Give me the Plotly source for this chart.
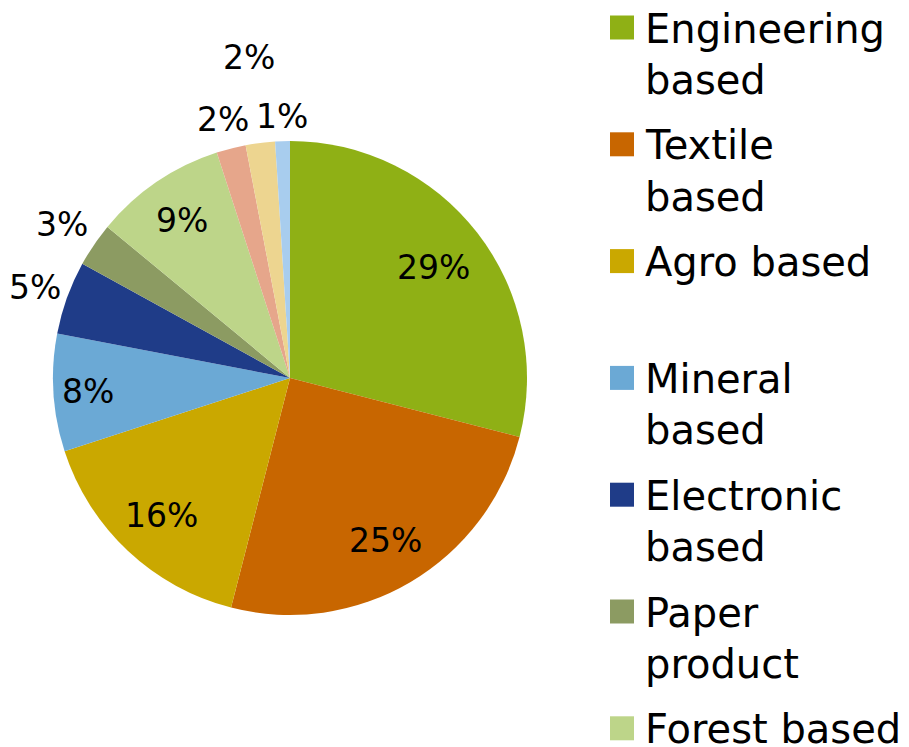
import math
import plotly.graph_objects as go

categories = ["Engineering based", "Textile based", "Agro based", "Mineral based",
              "Electronic based", "Paper product", "Forest based",
              "Chemical based", "Food based", "Others"]
legend_lines = [["Engineering", "based"], ["Textile", "based"], ["Agro based"],
                ["Mineral", "based"], ["Electronic", "based"], ["Paper", "product"],
                ["Forest based"], ["Chemical", "based"], ["Food based"], ["Others"]]
shares = [29, 25, 16, 8, 5, 3, 9, 2, 2, 1]
colors = ["#8FB015", "#C86600", "#CAA800", "#6BA9D5", "#1F3C88",
          "#8C9B62", "#BDD589", "#E6A68B", "#EDD590", "#A8CDEE"]
# radial distance of each percentage label, as a fraction of the pie radius
label_radius = [0.767, 0.79, 0.79, 0.853, 1.143, 1.163, 0.81, 1.131, 1.368, 1.11]

W, H = 909, 747
OFF = 8  # page body margin
FONT = "DejaVu Sans"
CX, CY, R = 290, 378, 237  # pie centre / radius in picture pixels


def px(x):
    return (x - OFF) / W


def py(y):
    return 1 - (y - OFF) / H


fig = go.Figure(go.Pie(
    labels=categories, values=shares, sort=False, direction="clockwise",
    rotation=0, marker=dict(colors=colors, line=dict(width=0)),
    textinfo="none", showlegend=False, hoverinfo="label+percent",
    domain=dict(x=[px(CX - R), px(CX + R)], y=[py(CY + R), py(CY - R)]),
))

shapes, annots = [], []

# percentage labels along each slice's bisector
total = sum(shares)
cum = 0
for v, f in zip(shares, label_radius):
    theta = math.radians(360 * (cum + v / 2) / total)
    cum += v
    lx = CX + f * R * math.sin(theta)
    ly = CY - f * R * math.cos(theta)
    annots.append(dict(text=f"{v}%", xref="paper", yref="paper", x=px(lx), y=py(ly + 1),
                       xanchor="center", yanchor="middle", showarrow=False,
                       font=dict(family=FONT, size=33, color="#000000")))

# manual legend (Excel-style equal spacing)
item_step = 116.8
first_center = 27.5
for i, (lines, col) in enumerate(zip(legend_lines, colors)):
    cy = first_center + i * item_step
    if cy > H:
        break
    shapes.append(dict(type="rect", xref="paper", yref="paper",
                       x0=px(610), x1=px(634), y0=py(cy - 12), y1=py(cy + 12),
                       fillcolor=col, line=dict(width=0)))
    for k, t in enumerate(lines):
        ly = cy + k * 51.5
        annots.append(dict(text=t, xref="paper", yref="paper", x=px(643), y=py(ly + 1),
                           xanchor="left", yanchor="middle", showarrow=False,
                           font=dict(family=FONT, size=40, color="#000000")))

fig.update_layout(width=W, height=H, margin=dict(l=0, r=0, t=0, b=0),
                  paper_bgcolor="white", plot_bgcolor="white",
                  shapes=shapes, annotations=annots)
fig.write_html("out.html")
